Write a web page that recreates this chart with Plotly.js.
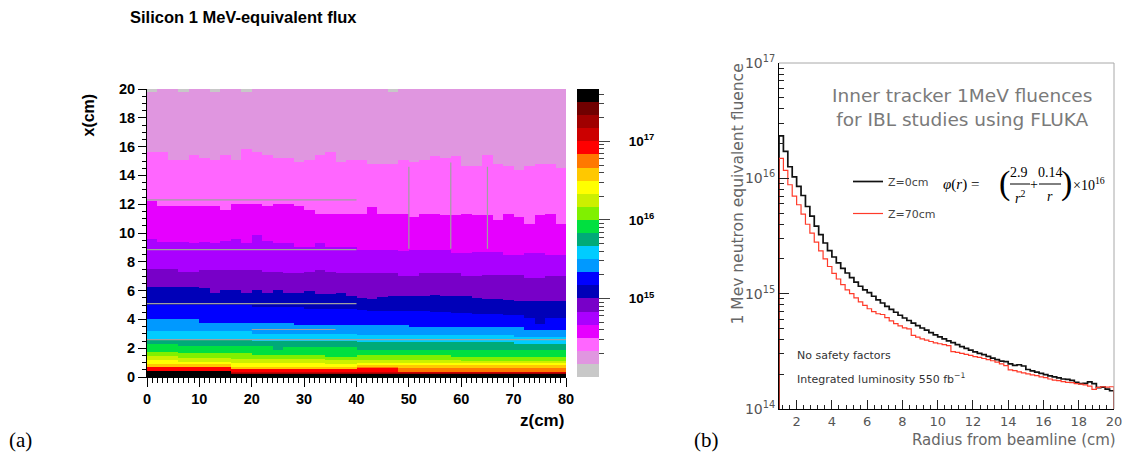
<!DOCTYPE html>
<html>
<head>
<meta charset="utf-8">
<script src="https://cdn.plot.ly/plotly-3.0.1.min.js"></script>
<style>
  html, body { margin: 0; padding: 0; background: #fff; }
  #chart { width: 1131px; height: 454px; }
</style>
</head>
<body>
<div id="chart"></div>
<script>
// ---------- (a) Silicon 1 MeV-equivalent flux map ----------
// z bins (cm), 2 cm wide
const zBinCentres = [1,3,5,7,9,11,13,15,17,19,21,23,25,27,29,31,33,35,37,39,
                     41,43,45,47,49,51,53,55,57,59,61,63,65,67,69,71,73,75,77,79];

// Colour levels of the flux scale (log10 flux, six levels per decade, from 1e14 up)
const levelColours = ['#c8c8c8','#e096e0','#ff66ff','#e600ff','#aa00ff','#7800c8',
                      '#0000b8','#0000ff','#0099ff','#00ccff','#00aa78','#00e040',
                      '#80f000','#ccf000','#ffff00','#ffc800','#ff7800','#ff0000',
                      '#cc0000','#a00000','#700000','#000000'];
const scaleLog10Min = 14;
const levelsPerDecade = 6;

// For each level k: height x (cm) below which the flux reaches level k, per z bin
const lvl01 = [19.8,20,20,19.8,20,20,19.8,20,20,19.8,20,20,20,20,20,20,20,20,20,20,
               20,20,20,19.8,20,20,20,20,20,20,20,20,20,20,20,20,20,20,20,20];
const lvl02 = [15.65,15.65,15.07,15.07,15.42,15.19,15.07,15.42,15.07,15.81,15.65,15.42,15.19,15.19,14.88,15.07,15.42,15.58,14.93,15.1,
               15.1,14.8,14.8,14.8,15.07,14.95,15.1,15.35,15.19,15.35,14.65,14.65,15.4,14.8,14.65,14.35,14.65,14.8,14.8,14.5];
const lvl03 = [12.2,11.83,11.83,11.83,11.83,11.83,11.83,11.6,12.01,12.01,12.01,11.83,12.01,12.01,11.83,11.6,11.37,11.37,11.37,11.37,
               11.37,11.78,11.37,11.37,11.37,11.09,11.3,11.37,11.25,11.25,11.37,11.25,11.25,10.9,11.3,11.09,10.67,11.25,11.37,10.67];
const lvl04 = [9.6,9.4,9.4,9.4,9.3,9.4,9.3,9.45,9.56,9.3,9.86,9.45,9.3,9.3,9.05,9.05,9.3,9.05,9.05,9.05,
               8.8,8.8,8.8,8.8,8.75,8.8,8.8,8.8,8.8,8.6,8.6,8.7,8.7,8.7,8.5,8.5,8.6,8.6,8.5,8.5];
const lvl05 = [7.5,7.5,7.5,7.3,7.3,7.45,7.4,7.4,7.4,7.4,7.4,7.3,7.3,7.2,7.2,7.3,7.4,7.3,7.2,7.2,
               7.2,7.2,7.2,7.2,7.0,7.0,7.2,7.2,7.2,7.2,7.0,7.0,7.1,7.1,7.1,7.1,6.85,6.85,7.0,7.0];
const lvl06 = [6.25,6.25,6.25,6.25,6.25,6.16,5.86,6.04,6.04,5.86,6.04,5.86,6.04,5.86,5.86,5.95,5.76,5.76,5.8,5.58,
               5.5,5.46,5.55,5.58,5.58,5.58,5.6,5.69,5.65,5.6,5.58,5.5,5.46,5.46,5.35,5.23,5.23,5.23,5.3,5.3];
const lvl07 = [5.0,5.0,5.0,5.0,5.0,5.0,5.0,5.0,5.0,5.0,4.85,4.85,4.85,4.85,4.85,4.7,4.7,4.7,4.7,4.7,
               4.65,4.6,4.55,4.55,4.55,4.55,4.55,4.5,4.5,4.45,4.45,4.42,4.42,4.42,4.3,4.3,4.1,3.7,4.1,4.1];
const lvl08 = [4.0,4.0,4.0,4.0,4.0,3.77,3.77,3.77,3.77,3.77,3.77,3.77,3.77,3.77,3.6,3.6,3.6,3.6,3.6,3.6,
               3.6,3.6,3.6,3.6,3.6,3.45,3.45,3.45,3.45,3.45,3.45,3.45,3.45,3.45,3.45,3.45,3.26,3.26,3.26,3.26];
const lvl09 = [3.2,3.2,3.2,3.2,3.2,3.2,3.2,3.2,3.2,3.2,3.0,3.0,3.0,3.0,3.0,3.0,3.0,3.0,3.0,3.0,
               2.95,2.95,2.95,2.95,2.95,2.9,2.9,2.9,2.9,2.9,2.9,2.9,2.9,2.9,2.9,2.8,2.8,2.8,2.8,2.8];
const lvl10 = [2.6,2.6,2.6,2.6,2.6,2.6,2.6,2.6,2.6,2.6,2.52,2.52,2.52,2.52,2.52,2.52,2.52,2.52,2.52,2.52,
               2.45,2.45,2.45,2.45,2.45,2.45,2.45,2.45,2.45,2.45,2.45,2.45,2.45,2.45,2.45,2.3,2.3,2.3,2.3,2.3];
const lvl11 = [2.29,2.29,2.29,2.15,2.15,2.15,2.15,2.15,2.15,2.15,2.15,2.15,1.92,2.06,2.06,2.06,2.06,2.06,2.06,2.06,
               1.88,1.88,1.88,1.88,1.88,1.88,1.88,1.88,1.88,1.88,1.88,1.88,1.88,1.88,1.88,1.88,1.88,1.88,1.88,1.88];
const lvl12 = [1.76,1.76,1.76,1.64,1.64,1.64,1.64,1.64,1.64,1.64,1.53,1.53,1.53,1.53,1.53,1.53,1.53,1.41,1.41,1.41,
               1.53,1.53,1.53,1.53,1.53,1.53,1.53,1.53,1.53,1.41,1.41,1.41,1.41,1.41,1.41,1.41,1.41,1.41,1.41,1.41];
const lvl13 = [1.46,1.46,1.46,1.37,1.37,1.37,1.37,1.37,1.23,1.23,1.23,1.23,1.23,1.23,1.23,1.23,1.23,1.16,1.16,1.16,
               1.15,1.15,1.15,1.15,1.15,1.15,1.15,1.15,1.15,1.15,1.1,1.1,1.1,1.1,1.1,1.1,1.1,1.1,1.1,1.1];
const lvl14 = [1.13,1.13,1.13,1.05,1.05,1.05,1.05,1.05,0.95,0.95,0.95,0.95,0.95,0.95,0.95,0.95,0.95,0.9,0.9,0.9,
               1.0,1.0,1.0,1.0,0.95,0.95,0.95,0.95,0.95,0.95,0.95,0.95,0.95,0.95,0.95,0.95,0.95,0.95,0.95,0.95];
const lvl15 = [0.9,0.9,0.9,0.9,0.9,0.9,0.9,0.9,0.72,0.72,0.72,0.72,0.72,0.72,0.72,0.72,0.72,0.72,0.72,0.72,
               0.83,0.83,0.83,0.83,0.85,0.85,0.85,0.85,0.85,0.85,0.85,0.85,0.85,0.85,0.85,0.85,0.85,0.85,0.85,0.85];
const lvl16 = [0.72,0.72,0.72,0.72,0.72,0.72,0.72,0.72,0.55,0.55,0.55,0.55,0.55,0.55,0.55,0.55,0.55,0.55,0.55,0.55,
               0.68,0.68,0.68,0.68,0.67,0.67,0.67,0.67,0.67,0.67,0.67,0.67,0.67,0.67,0.67,0.67,0.67,0.67,0.67,0.67];
const lvl17 = [0.7,0.7,0.7,0.7,0.7,0.7,0.7,0.7,0.53,0.53,0.53,0.53,0.53,0.53,0.53,0.53,0.53,0.53,0.53,0.53,
               0.66,0.66,0.66,0.66,0.37,0.37,0.37,0.37,0.37,0.37,0.37,0.37,0.37,0.37,0.37,0.37,0.37,0.37,0.37,0.37];
const lvl18 = [0.45,0.45,0.45,0.45,0.45,0.45,0.45,0.45,0.35,0.35,0.35,0.35,0.35,0.35,0.35,0.35,0.35,0.35,0.35,0.35,
               0.37,0.37,0.37,0.37,0.35,0.35,0.35,0.35,0.35,0.35,0.35,0.35,0.35,0.35,0.35,0.35,0.35,0.35,0.35,0.35];
const lvl19 = [0.45,0.45,0.45,0.45,0.45,0.45,0.45,0.45,0.3,0.3,0.3,0.3,0.3,0.3,0.3,0.3,0.3,0.3,0.3,0.3,
               0.3,0.3,0.3,0.3,0.3,0.3,0.3,0.3,0.3,0.3,0.3,0.3,0.3,0.3,0.3,0.3,0.3,0.3,0.3,0.3];
const lvl20 = [0.44,0.44,0.44,0.44,0.44,0.44,0.44,0.44,0.22,0.22,0.22,0.22,0.22,0.22,0.22,0.22,0.22,0.22,0.22,0.22,
               0.22,0.22,0.22,0.22,0.22,0.22,0.22,0.22,0.22,0.22,0.22,0.22,0.22,0.22,0.22,0.22,0.22,0.22,0.22,0.22];
const lvl21 = [0.44,0.44,0.44,0.44,0.44,0.44,0.44,0.44,0.21,0.21,0.21,0.21,0.21,0.21,0.21,0.21,0.21,0.21,0.21,0.21,
               0.21,0.21,0.21,0.21,0.21,0.21,0.21,0.21,0.21,0.21,0.21,0.21,0.21,0.21,0.21,0.21,0.21,0.21,0.21,0.21];

// Geometry outlines drawn over the map: [z start, z end] and [x start, x end] in cm
const outlineZ = [[0,40],[0,40],[0,40],[20,36],[0,80],[50,50],[58,58],[65,65]];
const outlineX = [[12.3,12.3],[8.85,8.85],[5.1,5.1],[3.3,3.3],[2.6,2.6],[8.9,14.6],[8.9,14.9],[8.9,14.6]];

// ---------- (b) 1 MeV neutron equivalent fluence vs radius ----------
const radiusEdges = [1.0,1.25,1.5,1.75,2.0,2.25,2.5,2.75,3.0,3.25,3.5,3.75,4.0,4.25,4.5,4.75,5.0,5.25,5.5,5.75,
                     6.0,6.25,6.5,6.75,7.0,7.25,7.5,7.75,8.0,8.25,8.5,8.75,9.0,9.25,9.5,9.75,10.0,10.25,10.5,10.75,
                     11.0,11.25,11.5,11.75,12.0,12.25,12.5,12.75,13.0,13.25,13.5,13.75,14.0,14.25,14.5,14.75,15.0,15.25,15.5,15.75,
                     16.0,16.25,16.5,16.75,17.0,17.25,17.5,17.75,18.0,18.25,18.5,18.75,19.0,19.25,19.5,19.75,20.0];
const fluenceZ0 = [2.33e16,1.71e16,1.26e16,1.03e16,8.5e15,7.1e15,5.7e15,4.7e15,3.85e15,3.25e15,
                   2.75e15,2.36e15,2.08e15,1.85e15,1.66e15,1.51e15,1.38e15,1.26e15,1.16e15,1.08e15,
                   1.02e15,9.5e14,8.85e14,8.3e14,7.75e14,7.3e14,6.9e14,6.5e14,6.15e14,5.85e14,
                   5.55e14,5.28e14,5.04e14,4.82e14,4.6e14,4.4e14,4.22e14,4.06e14,3.9e14,3.76e14,
                   3.61e14,3.48e14,3.36e14,3.24e14,3.13e14,3.03e14,2.96e14,2.86e14,2.76e14,2.68e14,
                   2.6e14,2.58e14,2.46e14,2.39e14,2.42e14,2.36e14,2.2e14,2.14e14,2.09e14,2.04e14,
                   1.99e14,1.94e14,1.9e14,1.86e14,1.82e14,1.81e14,1.77e14,1.7e14,1.66e14,1.67e14,
                   1.72e14,1.66e14,1.53e14,1.55e14,1.49e14,1.44e14];
const fluenceZ70 = [1.49e16,1.17e16,8.8e15,7.0e15,5.9e15,4.9e15,4.0e15,3.35e15,2.8e15,2.35e15,
                    2.0e15,1.72e15,1.5e15,1.34e15,1.2e15,1.08e15,1.0e15,9.2e14,8.5e14,7.9e14,
                    7.4e14,7.0e14,6.7e14,6.6e14,6.2e14,5.8e14,5.5e14,5.25e14,5.05e14,4.95e14,
                    4.35e14,4.2e14,4.05e14,3.95e14,3.85e14,3.75e14,3.68e14,3.62e14,3.55e14,3.15e14,
                    3.1e14,3.04e14,2.98e14,2.92e14,2.85e14,2.8e14,2.74e14,2.68e14,2.62e14,2.55e14,
                    2.46e14,2.38e14,2.18e14,2.15e14,2.1e14,2.06e14,2.02e14,1.98e14,1.95e14,1.9e14,
                    1.87e14,1.82e14,1.78e14,1.76e14,1.73e14,1.7e14,1.69e14,1.66e14,1.64e14,1.62e14,
                    1.58e14,1.48e14,1.54e14,1.56e14,1.55e14,1.56e14];
const seriesNames = ['Z=0cm', 'Z=70cm'];
const fluenceTicks = [1e14, 1e15, 1e16, 1e17];
const fluenceTickText = ['10<sup>14</sup>','10<sup>15</sup>','10<sup>16</sup>','10<sup>17</sup>'];
const colourbarTicks = [1e15, 1e16, 1e17];
const colourbarTickText = ['10<sup>15</sup>','10<sup>16</sup>','10<sup>17</sup>'];

// ---------- page geometry helpers (pixels -> paper fraction) ----------
const W = 1131, H = 454;
const px = x => x / W;
const py = y => 1 - y / H;

// ---------- build the flux map grid ----------
const levelEdges = [lvl01,lvl02,lvl03,lvl04,lvl05,lvl06,lvl07,lvl08,lvl09,lvl10,lvl11,
                    lvl12,lvl13,lvl14,lvl15,lvl16,lvl17,lvl18,lvl19,lvl20,lvl21];
const nLevels = levelColours.length;
const rowStep = 0.05;
const rowCentres = [];
for (let x = rowStep / 2; x < 20; x += rowStep) rowCentres.push(+x.toFixed(4));
const fluxGrid = rowCentres.map(x => zBinCentres.map((_, c) => {
  let level = 0;
  levelEdges.forEach(edge => { if (x < edge[c]) level++; });
  return scaleLog10Min + (level + 0.5) / levelsPerDecade;
}));
const colourscale = [];
levelColours.forEach((col, k) => {
  colourscale.push([k / nLevels, col], [(k + 1) / nLevels, col]);
});
const scaleLog10Max = scaleLog10Min + nLevels / levelsPerDecade;

const outlineXs = [], outlineYs = [];
outlineZ.forEach((seg, i) => {
  outlineXs.push(seg[0], seg[1], null);
  outlineYs.push(outlineX[i][0], outlineX[i][1], null);
});

// log-scale minor tick positions (2..9 per decade)
function logMinors(lo, hi) {
  const out = [];
  for (let d = lo; d < hi; d++) for (let m = 2; m <= 9; m++) out.push(m * Math.pow(10, d));
  return out;
}

// ---------- histogram outlines (step lines closed to the axis floor) ----------
function stepLine(edges, vals, floor) {
  const xs = [edges[0]], ys = [floor];
  vals.forEach((v, i) => { xs.push(edges[i]); ys.push(v); });
  xs.push(edges[edges.length - 1], edges[edges.length - 1]);
  ys.push(vals[vals.length - 1], floor);
  return { xs, ys };
}
const floorValue = fluenceTicks[0];
const stepZ0 = stepLine(radiusEdges, fluenceZ0, floorValue);
const stepZ70 = stepLine(radiusEdges, fluenceZ70, floorValue);

const boldFont = { family: 'Liberation Sans, Arial, sans-serif', size: 14.5, color: '#000', weight: 700 };
const greyFont = { family: 'DejaVu Sans, sans-serif', size: 13, color: '#555' };
const serif = 'Liberation Serif, Times New Roman, serif';

const traces = [
  {
    type: 'heatmap', x: zBinCentres, y: rowCentres, z: fluxGrid,
    zmin: scaleLog10Min, zmax: scaleLog10Max, colorscale: colourscale,
    xaxis: 'x', yaxis: 'y', hoverinfo: 'skip', zsmooth: false,
    colorbar: {
      x: px(577), xanchor: 'left', y: py(377), yanchor: 'bottom',
      len: 288 / H, lenmode: 'fraction', thickness: 22, thicknessmode: 'pixels',
      outlinewidth: 0, xpad: 0, ypad: 0, ticks: '', showticklabels: false
    }
  },
  {
    type: 'scatter', mode: 'lines', x: outlineXs, y: outlineYs, xaxis: 'x', yaxis: 'y',
    line: { color: '#a0a0a0', width: 1.2 }, showlegend: false, hoverinfo: 'skip', connectgaps: false
  },
  {
    type: 'scatter', x: [], y: [], xaxis: 'x', yaxis: 'y3', showlegend: false, hoverinfo: 'skip'
  },
  {
    type: 'scatter', mode: 'lines', name: seriesNames[0], legendgroup: 'g0',
    x: stepZ0.xs, y: stepZ0.ys, xaxis: 'x2', yaxis: 'y2',
    line: { color: '#111', width: 1.7, shape: 'hv' }, hoverinfo: 'skip'
  },
  {
    type: 'scatter', mode: 'lines', name: seriesNames[1], legendgroup: 'g1',
    x: stepZ70.xs, y: stepZ70.ys, xaxis: 'x2', yaxis: 'y2',
    line: { color: '#ff3b2a', width: 1.2, shape: 'hv' }, hoverinfo: 'skip'
  }
];

const annotations = [
  { text: 'Silicon 1 MeV-equivalent flux', x: px(128), y: py(17), xanchor: 'left', yanchor: 'middle',
    font: Object.assign({}, boldFont, { size: 16.5 }) },
  { text: 'x(cm)', x: px(88), y: py(92), xanchor: 'center', yanchor: 'top', textangle: -90,
    font: Object.assign({}, boldFont, { size: 16 }) },
  { text: 'z(cm)', x: px(566), y: py(420), xanchor: 'right', yanchor: 'middle',
    font: Object.assign({}, boldFont, { size: 17 }) },
  { text: '(a)', x: px(7), y: py(440), xanchor: 'left', yanchor: 'middle',
    font: { family: serif, size: 21, color: '#000' } },
  { text: '(b)', x: px(692), y: py(440), xanchor: 'left', yanchor: 'middle',
    font: { family: serif, size: 21, color: '#000' } },
  { text: 'Inner tracker 1MeV fluences<br>for IBL studies using FLUKA', x: px(962), y: py(108),
    xanchor: 'center', yanchor: 'middle', align: 'center',
    font: { family: 'DejaVu Sans, sans-serif', size: 18.5, color: '#7a7a7a' } },
  { text: '1 Mev neutron equivalent fluence', x: px(738), y: py(62), xanchor: 'center', yanchor: 'top',
    textangle: -90, font: { family: 'DejaVu Sans, sans-serif', size: 15.5, color: '#666' } },
  { text: 'Radius from beamline (cm)', x: px(1118), y: py(440), xanchor: 'right', yanchor: 'middle',
    font: { family: 'DejaVu Sans, sans-serif', size: 15, color: '#666' } },
  { text: 'No safety factors', x: px(795), y: py(355), xanchor: 'left', yanchor: 'middle',
    font: { family: 'DejaVu Sans, sans-serif', size: 11, color: '#333' } },
  { text: 'Integrated luminosity 550 fb<sup>−1</sup>', x: px(795), y: py(378), xanchor: 'left', yanchor: 'middle',
    font: { family: 'DejaVu Sans, sans-serif', size: 11, color: '#333' } },
  // fit formula
  { text: '<i>φ</i>(<i>r</i>) =', x: px(941), y: py(184), xanchor: 'left', yanchor: 'middle',
    font: { family: serif, size: 15, color: '#000' } },
  { text: '(', x: px(1004), y: py(183), xanchor: 'center', yanchor: 'middle',
    font: { family: serif, size: 34, color: '#000' } },
  { text: '2.9', x: px(1019), y: py(173), xanchor: 'center', yanchor: 'middle',
    font: { family: serif, size: 14, color: '#000' } },
  { text: '<i>r</i><sup>2</sup>', x: px(1020), y: py(197), xanchor: 'center', yanchor: 'middle',
    font: { family: serif, size: 14, color: '#000' } },
  { text: '+', x: px(1034), y: py(184), xanchor: 'center', yanchor: 'middle',
    font: { family: serif, size: 14, color: '#000' } },
  { text: '0.14', x: px(1050), y: py(173), xanchor: 'center', yanchor: 'middle',
    font: { family: serif, size: 14, color: '#000' } },
  { text: '<i>r</i>', x: px(1050), y: py(197), xanchor: 'center', yanchor: 'middle',
    font: { family: serif, size: 14, color: '#000' } },
  { text: ')', x: px(1066), y: py(183), xanchor: 'center', yanchor: 'middle',
    font: { family: serif, size: 34, color: '#000' } },
  { text: '×10<sup>16</sup>', x: px(1071), y: py(184), xanchor: 'left', yanchor: 'middle',
    font: { family: serif, size: 14, color: '#000' } }
].map(a => Object.assign({ xref: 'paper', yref: 'paper', showarrow: false }, a));

const shapes = [
  { type: 'line', xref: 'x2 domain', yref: 'y2 domain', x0: 0, x1: 1, y0: 1, y1: 1,
    line: { color: '#a8a8a8', width: 1 } },
  { type: 'line', xref: 'x2 domain', yref: 'y2 domain', x0: 1, x1: 1, y0: 0, y1: 1,
    line: { color: '#a8a8a8', width: 1 } },
  { type: 'line', xref: 'paper', yref: 'paper', x0: px(1010), x1: px(1030), y0: py(184), y1: py(184),
    line: { color: '#000', width: 1 } },
  { type: 'line', xref: 'paper', yref: 'paper', x0: px(1039), x1: px(1061), y0: py(184), y1: py(184),
    line: { color: '#000', width: 1 } }
];

const layout = {
  width: W, height: H,
  margin: { l: 0, r: 0, t: 0, b: 0, pad: 0 },
  paper_bgcolor: '#fff', plot_bgcolor: '#fff',
  showlegend: true,
  legend: {
    x: px(848), y: py(167), xanchor: 'left', yanchor: 'top',
    bgcolor: 'rgba(0,0,0,0)', itemwidth: 30, traceorder: 'grouped', tracegroupgap: 13,
    font: { family: 'DejaVu Sans, sans-serif', size: 11, color: '#444' }
  },
  xaxis: {
    domain: [px(147), px(566)], anchor: 'y', range: [0, 80],
    tickmode: 'linear', tick0: 0, dtick: 10, ticks: 'outside', ticklen: 9, tickcolor: '#000',
    minor: { tickmode: 'linear', dtick: 1, ticks: 'outside', ticklen: 5, tickcolor: '#000' },
    showline: true, linecolor: '#000', linewidth: 1, showgrid: false, zeroline: false,
    tickfont: boldFont, fixedrange: true
  },
  yaxis: {
    domain: [py(377), py(89)], anchor: 'x', range: [0, 20],
    tickmode: 'linear', tick0: 0, dtick: 2, ticks: 'outside', ticklen: 8, tickcolor: '#000',
    minor: { tickmode: 'linear', dtick: 0.5, ticks: 'outside', ticklen: 4, tickcolor: '#000' },
    showline: true, linecolor: '#000', linewidth: 1, showgrid: false, zeroline: false,
    tickfont: boldFont, fixedrange: true
  },
  yaxis3: {
    overlaying: 'y', anchor: 'free', position: px(598), side: 'right',
    type: 'log', range: [scaleLog10Min, scaleLog10Max],
    tickmode: 'array', tickvals: colourbarTicks, ticktext: colourbarTickText,
    ticks: 'outside', ticklen: 11, tickcolor: '#444',
    minor: { tickmode: 'array', tickvals: logMinors(14, 18), ticks: 'outside', ticklen: 5, tickcolor: '#444' },
    ticklabelstandoff: 16,
    showline: false, showgrid: false, zeroline: false,
    tickfont: Object.assign({}, boldFont, { size: 13.5 }), fixedrange: true
  },
  xaxis2: {
    domain: [px(779), px(1114)], anchor: 'y2', range: [1, 20],
    tickmode: 'linear', tick0: 0, dtick: 2, ticks: 'inside', ticklen: 9, tickcolor: '#222',
    minor: { tickmode: 'linear', dtick: 0.4, ticks: 'inside', ticklen: 4.5, tickcolor: '#222' },
    showline: true, linecolor: '#000', linewidth: 1, showgrid: false, zeroline: false,
    tickfont: greyFont, fixedrange: true
  },
  yaxis2: {
    domain: [py(409), py(63)], anchor: 'x2', type: 'log', range: [14, 17],
    tickmode: 'array', tickvals: fluenceTicks, ticktext: fluenceTickText,
    ticks: 'inside', ticklen: 10, tickcolor: '#222',
    minor: { tickmode: 'array', tickvals: logMinors(14, 17), ticks: 'inside', ticklen: 5, tickcolor: '#222' },
    showline: true, linecolor: '#000', linewidth: 1, showgrid: false, zeroline: false,
    tickfont: Object.assign({}, greyFont, { size: 14 }), fixedrange: true
  },
  annotations: annotations,
  shapes: shapes
};

Plotly.newPlot('chart', traces, layout, { displayModeBar: false, staticPlot: true });
</script>
</body>
</html>
